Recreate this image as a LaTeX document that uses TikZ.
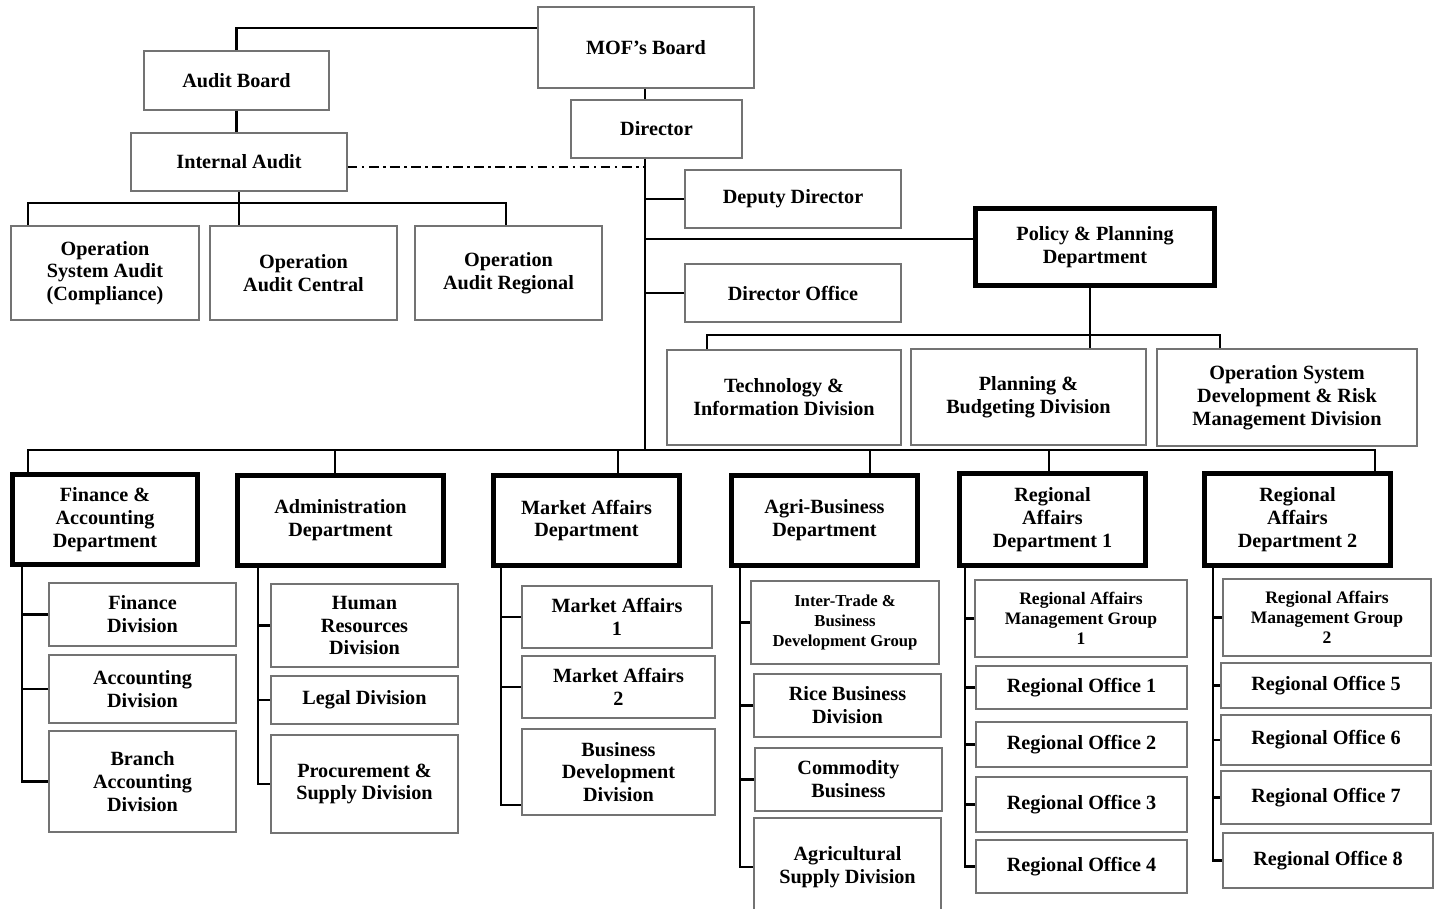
\documentclass[tikz,border=0pt]{standalone}
\usepackage{fontspec}
\setmainfont{Liberation Serif}
\tikzset{
    orgbox/.style 2 args = {draw=black!55, line width=0.9pt, fill=white, align=center, inner sep=1pt,
        font=\bfseries\fontsize{11.5}{13}\selectfont,
        minimum width=#1*0.02cm, minimum height=#2*0.02cm},
    dept/.style 2 args = {orgbox={#1}{#2}, draw=black, line width=2.8pt},
    smalltext/.style = {font=\bfseries\fontsize{9.5}{11.3}\selectfont},
    midtext/.style = {font=\bfseries\fontsize{10}{11.3}\selectfont},
    link/.style = {line width=1.4pt},
    dottedlink/.style = {line width=1.1pt, dash pattern=on 5.5pt off 2.5pt on 1.5pt off 2.5pt}
}
\begin{document}
\begin{tikzpicture}[x=0.02cm, y=-0.02cm]
\useasboundingbox (0,0) rectangle (1437,909);
\node [orgbox={216}{81}] (mof) at (646,47.5) {MOF’s Board};
\node [orgbox={185}{59}] (audit) at (236.5,80.5) {Audit Board};
\node [orgbox={171}{58}] (director) at (656.5,129) {Director};
\node [orgbox={216}{58}] (intaudit) at (239,162) {Internal Audit};
\node [orgbox={188}{94}] (osa) at (105,273) {Operation\\System Audit\\(Compliance)};
\node [orgbox={187}{94}] (oac) at (303.5,273) {Operation\\Audit Central};
\node [orgbox={187}{94}] (oar) at (508.5,273) {Operation\\Audit Regional};
\node [orgbox={216}{58}] (deputy) at (793,199) {Deputy Director};
\node [dept={239}{77}] (policy) at (1095,247) {Policy \& Planning\\Department};
\node [orgbox={216}{58}] (diroff) at (793,293) {Director Office};
\node [orgbox={234}{95}] (tid) at (784,397.5) {Technology \&\\Information Division};
\node [orgbox={235}{96}] (pbd) at (1028.5,397) {Planning \&\\Budgeting Division};
\node [orgbox={260}{97}] (osd) at (1287,397.5) {Operation System\\Development \& Risk\\Management Division};

\node [dept={185}{90}] (fin) at (105,519.5) {Finance \&\\Accounting\\Department};
\node [dept={206}{90}] (adm) at (340.5,520.5) {Administration\\Department};
\node [dept={186}{90}] (mkt) at (586.5,520.5) {Market Affairs\\Department};
\node [dept={186}{90}] (agri) at (824.5,520.5) {Agri-Business\\Department};
\node [dept={186}{92}] (reg1) at (1052.5,519.5) {Regional\\Affairs\\Department 1};
\node [dept={186}{92}] (reg2) at (1297.5,519.5) {Regional\\Affairs\\Department 2};

\node [orgbox={187}{63}] (finv) at (142.5,614.5) {Finance\\Division};
\node [orgbox={187}{68}] (acc) at (142.5,689) {Accounting\\Division};
\node [orgbox={187}{101}] (bacc) at (142.5,781.5) {Branch\\Accounting\\Division};

\node [orgbox={187}{83}] (hr) at (364.5,625.5) {Human\\Resources\\Division};
\node [orgbox={187}{48}] (legal) at (364.5,700) {Legal Division};
\node [orgbox={187}{98}] (proc) at (364.5,784) {Procurement \&\\Supply Division};

\node [orgbox={190}{62}] (ma1) at (617,617) {Market Affairs\\1};
\node [orgbox={193}{62}] (ma2) at (618.5,687) {Market Affairs\\2};
\node [orgbox={193}{86}] (bdd) at (618.5,772) {Business\\Development\\Division};

\node [orgbox={188}{83}, smalltext] (itb) at (845,622.5) {Inter-Trade \&\\Business\\Development Group};
\node [orgbox={187}{63}] (rice) at (847.5,705.5) {Rice Business\\Division};
\node [orgbox={187}{63}] (comm) at (848.5,779.5) {Commodity\\Business};
\node [orgbox={187}{98}] (agsup) at (847.5,867) {Agricultural\\Supply Division};

\node [orgbox={212}{77}, midtext] (ramg1) at (1081,618.5) {Regional Affairs\\Management Group\\1};
\node [orgbox={211}{43}] (ro1) at (1081.5,687.5) {Regional Office 1};
\node [orgbox={211}{45}] (ro2) at (1081.5,744.5) {Regional Office 2};
\node [orgbox={211}{55}] (ro3) at (1081.5,804.5) {Regional Office 3};
\node [orgbox={211}{53}] (ro4) at (1081.5,866.5) {Regional Office 4};

\node [orgbox={208}{77}, midtext] (ramg2) at (1327,617.5) {Regional Affairs\\Management Group\\2};
\node [orgbox={210}{45}] (ro5) at (1326,685.5) {Regional Office 5};
\node [orgbox={210}{50}] (ro6) at (1326,740) {Regional Office 6};
\node [orgbox={210}{53}] (ro7) at (1326,797.5) {Regional Office 7};
\node [orgbox={210}{55}] (ro8) at (1328,860.5) {Regional Office 8};

\coordinate (spine) at (645,450);
\coordinate (dd) at (645,167);
\coordinate (ial) at (28,203);
\coordinate (iar) at (506,203);
\coordinate (ppl) at (707,335);
\coordinate (ppr) at (1220,335);
\coordinate (bl) at (28,450);
\coordinate (br) at (1375,450);

\draw [link] (audit.north) -- (audit.north |- 0,28) -- (mof.west |- 0,28);
\draw [link] (mof.south -| spine) -- (director.north -| spine);
\draw [link] (director.south -| spine) -- (spine);
\draw [link] (audit.south) -- (audit.south |- intaudit.north);
\draw [dottedlink] (intaudit.east |- dd) -- (dd);
\draw [link] (ial |- osa.north) -- (ial) -- (iar) -- (iar |- oar.north);
\draw [link] (intaudit.south) -- (intaudit.south |- oac.north);
\draw [link] (deputy.west) -- (deputy.west -| spine);
\draw [link] (policy.west |- 0,239) -- (spine |- 0,239);
\draw [link] (diroff.west) -- (diroff.west -| spine);
\draw [link] (ppl |- tid.north) -- (ppl) -- (ppr) -- (ppr |- osd.north);
\draw [link] (policy.south -| 1090,0) -- (pbd.north -| 1090,0);

\draw [link] (bl |- fin.north) -- (bl) -- (br) -- (br |- reg2.north);
\foreach \x/\n in {335/adm, 618/mkt, 870/agri, 1049/reg1}
    \draw [link] (\x,450) -- (\n.north -| \x,0);

\draw [link] (fin.south -| 22,0) |- (bacc.west);
\foreach \n in {finv, acc} \draw [link] (\n.west) -- (\n.west -| 22,0);
\draw [link] (adm.south -| 258,0) |- (proc.west);
\foreach \n in {hr, legal} \draw [link] (\n.west) -- (\n.west -| 258,0);
\draw [link] (mkt.south -| 501,0) |- (bdd.south west |- 0,805);
\foreach \n in {ma1, ma2} \draw [link] (\n.west) -- (\n.west -| 501,0);
\draw [link] (agri.south -| 740,0) |- (agsup.west);
\foreach \n in {itb, rice, comm} \draw [link] (\n.west) -- (\n.west -| 740,0);
\draw [link] (reg1.south -| 965,0) |- (ro4.west);
\foreach \n in {ramg1, ro1, ro2, ro3} \draw [link] (\n.west) -- (\n.west -| 965,0);
\draw [link] (reg2.south -| 1213,0) |- (ro8.west);
\foreach \n in {ramg2, ro5, ro6, ro7} \draw [link] (\n.west) -- (\n.west -| 1213,0);
\end{tikzpicture}
\end{document}
